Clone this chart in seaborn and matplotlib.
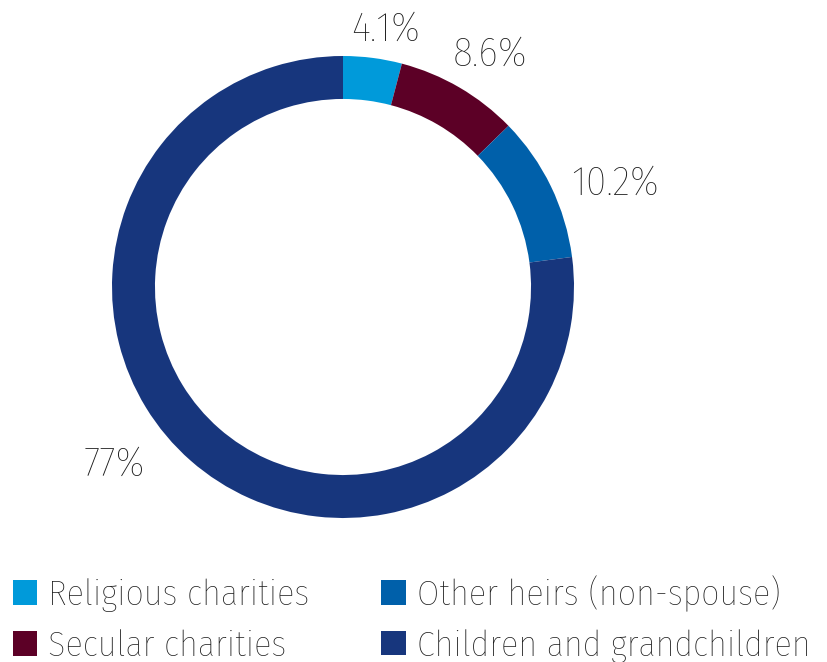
import numpy as np
import matplotlib
matplotlib.use('Agg')
import matplotlib.pyplot as plt
import seaborn as sns

# data
categories = ['Religious charities', 'Secular charities', 'Other heirs (non-spouse)', 'Children and grandchildren']
shares = [4.1, 8.6, 10.2, 77]
labels = ['4.1%', '8.6%', '10.2%', '77%']
colors = ['#009ADA', '#5C0026', '#0060AA', '#17367D']

sns.set_theme(style='white')
plt.rcParams['font.family'] = ['Fira Sans Condensed', 'DejaVu Sans']
plt.rcParams['font.weight'] = 'light'

fig = plt.figure(figsize=(8.27, 6.62), dpi=100)
ax = fig.add_axes([0, 0, 1, 1])

wedges, _ = ax.pie(shares, colors=sns.color_palette(colors), startangle=90, counterclock=False,
                   radius=1, wedgeprops=dict(width=0.186, linewidth=0))

# put the ring where the reference has it (pixel scale)
R = 231.0
cx, cy = 343, 287
ax.set_aspect('auto')
ax.set_xlim(-cx / R, (827 - cx) / R)
ax.set_ylim(-(662 - cy) / R, cy / R)
ax.axis('off')

# percentage labels outside the ring
lab_r = [1.13, 1.19, 1.26, 1.25]
lab_shift = [-2, -2, -5, -11]
for w, lab, r, s in zip(wedges, labels, lab_r, lab_shift):
    ang = np.deg2rad((w.theta1 + w.theta2) / 2 + s)
    ax.text(r * np.cos(ang), r * np.sin(ang), lab, ha='center', va='center',
            fontsize=30, color='#1a1a1a', fontweight='light')

leg = fig.legend(wedges, categories, ncol=2, loc='upper left', bbox_to_anchor=(0.0157, 0.131),
                 frameon=False, fontsize=26, handlelength=0.67, handleheight=0.67,
                 handletextpad=0.3, columnspacing=2.0, labelspacing=0.48, borderpad=0,
                 borderaxespad=0)
for t in leg.get_texts():
    t.set_color('#1a1a1a')
    t.set_fontweight('light')

fig.savefig('out.png', dpi=100)
